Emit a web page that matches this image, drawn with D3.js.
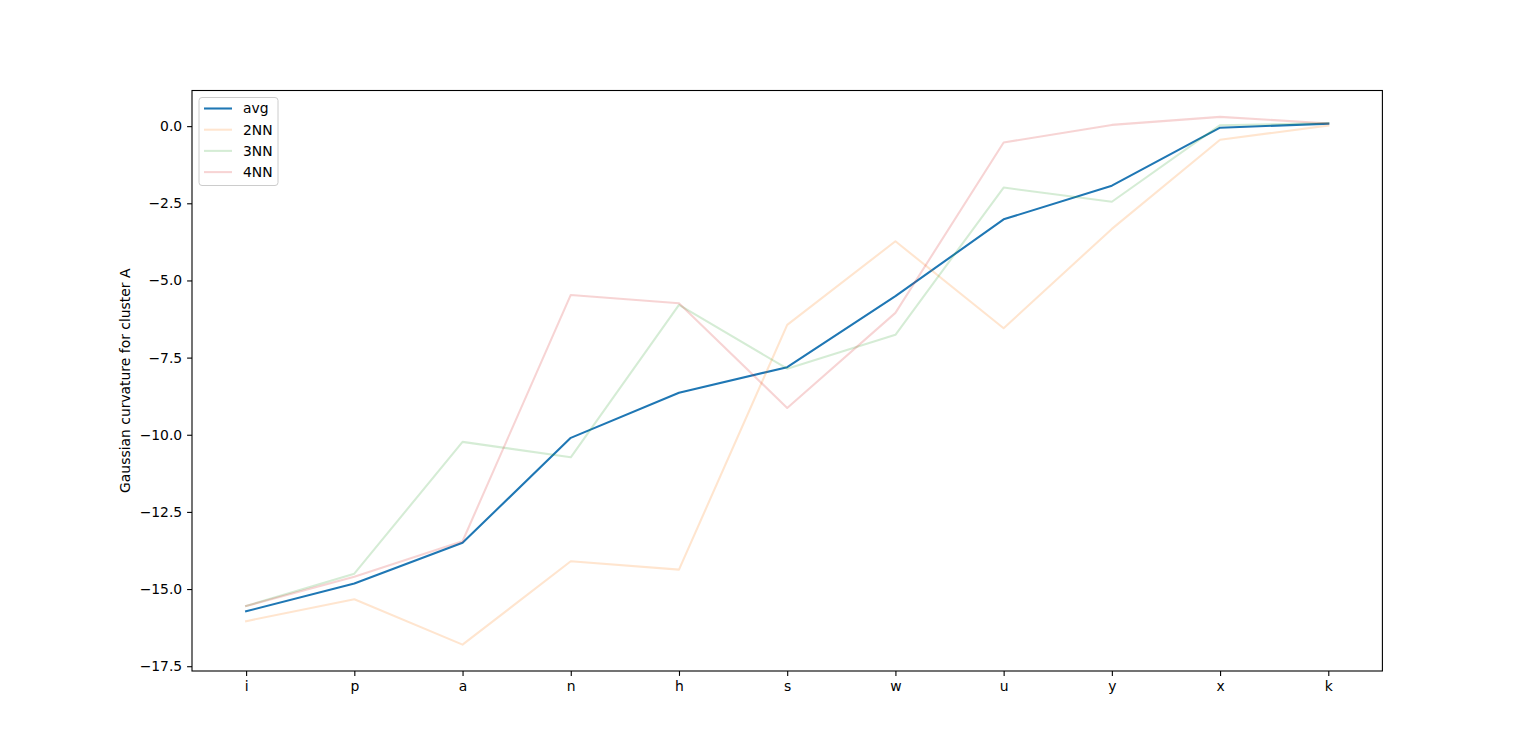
<!DOCTYPE html>
<meta charset="utf-8">
<head>
<style>
 body { margin: 0; background: #fff; }
 svg text {
   font-family: "DejaVu Sans", sans-serif;
   font-size: 13.9px;
   fill: #000;
 }
 .axis path, .axis line { stroke: #000; stroke-width: 1.1px; }
 .series { fill: none; stroke-width: 2.08px; stroke-linecap: square; stroke-linejoin: round; }
</style>
</head>
<body>
<svg width="1536" height="754"></svg>
<script src="https://d3js.org/d3.v7.min.js"></script>
<script>
  // data
  var categories = ['i', 'p', 'a', 'n', 'h', 's', 'w', 'u', 'y', 'x', 'k'];
  var avg   = [-15.72, -14.82, -13.50, -10.10, -8.64, -7.81, -5.51, -3.02, -1.93, -0.05, 0.08];
  var nn2   = [-16.04, -15.33, -16.80, -14.10, -14.37, -6.44, -3.73, -6.55, -3.33, -0.44, 0.02];
  var nn3   = [-15.55, -14.50, -10.23, -10.73, -5.79, -7.86, -6.76, -1.99, -2.45, 0.03, 0.10];
  var nn4   = [-15.55, -14.60, -13.45, -5.47, -5.74, -9.13, -6.05, -0.53, 0.04, 0.30, 0.09];
  var seriesNames = ['avg', '2NN', '3NN', '4NN'];
  var seriesColors = ['#1f77b4', '#ff7f0e', '#2ca02c', '#d62728'];
  var seriesAlpha = [1, 0.2, 0.2, 0.2];
  var yTicks = [0, -2.5, -5, -7.5, -10, -12.5, -15, -17.5];
  var yLabel = 'Gaussian curvature for cluster A';

  var svg = d3.select('svg');
  var width = +svg.attr('width');
  var height = +svg.attr('height');
  var margin = { top: 90.5, left: 192, bottom: 83, right: 153.6 };
  var iw = width - margin.left - margin.right;
  var ih = height - margin.top - margin.bottom;

  var allSeries = [avg, nn2, nn3, nn4];
  var allVals = [].concat(avg, nn2, nn3, nn4);
  var ext = d3.extent(allVals);
  var pad = (ext[1] - ext[0]) * 0.05;

  var x = d3.scalePoint().domain(categories).range([0, iw]).padding(0.5);
  var y = d3.scaleLinear().domain([ext[0] - pad, ext[1] + pad]).range([ih, 0]);

  var g = svg.append('g').attr('transform', 'translate(' + margin.left + ',' + margin.top + ')');

  var fmt = d3.format('.1f');
  var minus = function(v) { return fmt(v).replace('-', '\u2212'); };

  var line = d3.line()
      .x(function(d, i) { return x(categories[i]); })
      .y(function(d) { return y(d); });

  // lines (faint ones first painted in the same order as matplotlib)
  allSeries.forEach(function(s, k) {
    g.append('path')
      .attr('class', 'series')
      .attr('d', line(s))
      .attr('stroke', seriesColors[k])
      .attr('stroke-opacity', seriesAlpha[k]);
  });

  // axes
  var xAxis = g.append('g').attr('class', 'axis')
      .attr('transform', 'translate(0,' + ih + ')')
      .call(d3.axisBottom(x).tickSize(4.9).tickPadding(4.9));
  var yAxis = g.append('g').attr('class', 'axis')
      .call(d3.axisLeft(y).tickValues(yTicks).tickFormat(minus).tickSize(4.9).tickPadding(4.9));
  g.selectAll('.axis .domain').remove();
  g.selectAll('.axis text').style('font-size', '13.9px').style('font-family', '"DejaVu Sans", sans-serif');

  // frame
  g.append('rect')
    .attr('width', iw).attr('height', ih)
    .attr('fill', 'none').attr('stroke', '#000').attr('stroke-width', 1.1);

  // y label
  svg.append('text')
    .attr('transform', 'translate(130,' + (margin.top + ih / 2) + ') rotate(-90)')
    .attr('text-anchor', 'middle')
    .text(yLabel);

  // legend
  var leg = g.append('g').attr('transform', 'translate(7,7)');
  leg.append('rect')
    .attr('width', 79).attr('height', 88).attr('rx', 3)
    .attr('fill', '#fff').attr('fill-opacity', 0.8)
    .attr('stroke', '#ccc').attr('stroke-width', 1);
  seriesNames.forEach(function(name, k) {
    var ry = 11 + k * 21.2;
    leg.append('line')
      .attr('x1', 5).attr('x2', 33).attr('y1', ry).attr('y2', ry)
      .attr('stroke', seriesColors[k]).attr('stroke-opacity', seriesAlpha[k])
      .attr('stroke-width', 2.08);
    leg.append('text')
      .attr('x', 44).attr('y', ry).attr('dy', '0.35em')
      .text(name);
  });
</script>
</body>
</html>
